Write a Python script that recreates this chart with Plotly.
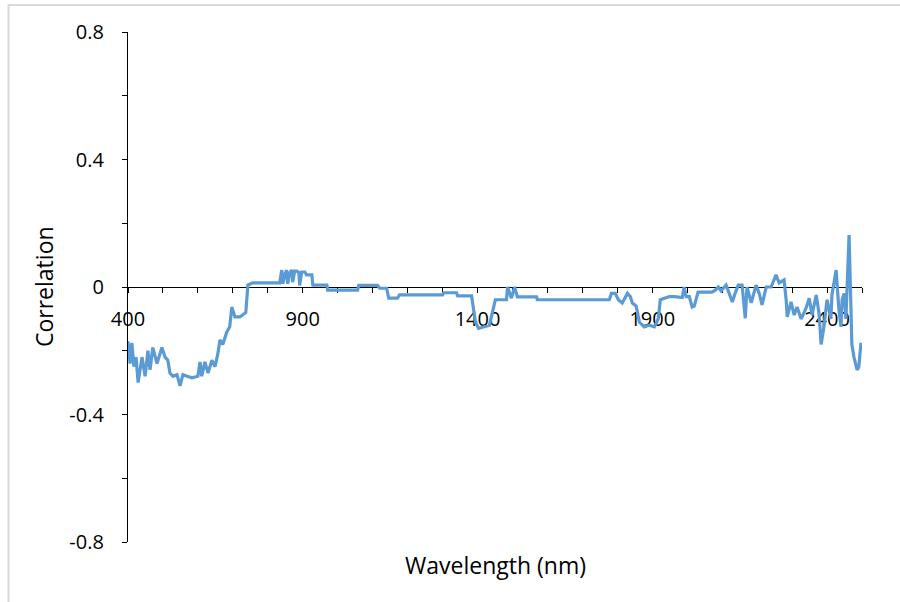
import plotly.graph_objects as go

# Correlation spectrum (wavelength in nm, correlation coefficient)
wavelength = [
    400, 406, 411, 417, 423, 429, 440, 449, 457, 463, 471, 483, 497, 506, 514,
    520, 529, 540, 549, 557, 569, 583, 600, 606, 611, 620, 629, 640, 649, 657,
    663, 671, 683, 691, 697, 706, 720, 734, 737, 743, 757, 834, 840, 843, 849,
    854, 857, 863, 869, 871, 877, 883, 889, 891, 897, 906, 911, 926, 929, 969,
    971, 1057, 1060, 1114, 1120, 1140, 1146, 1171, 1177, 1300, 1303, 1340, 1343,
    1383, 1394, 1403, 1420, 1434, 1451, 1454, 1483, 1486, 1497, 1506, 1514, 1569,
    1571, 1777, 1783, 1794, 1803, 1814, 1829, 1837, 1843, 1854, 1863, 1877, 1891,
    1906, 1917, 1923, 1934, 1949, 1963, 1986, 1991, 1997, 2006, 2014, 2020, 2026,
    2031, 2071, 2080, 2089, 2097, 2106, 2111, 2120, 2129, 2137, 2146, 2157, 2166,
    2171, 2183, 2197, 2206, 2214, 2226, 2240, 2254, 2263, 2277, 2283, 2286, 2297,
    2306, 2314, 2326, 2340, 2349, 2357, 2369, 2377, 2383, 2391, 2400, 2411, 2414,
    2426, 2434, 2440, 2443, 2449, 2454, 2463, 2471, 2477, 2486, 2491, 2497,
]
correlation = [
    -0.17, -0.24, -0.175, -0.25, -0.22, -0.30, -0.22, -0.28, -0.20, -0.26, -0.19,
    -0.24, -0.19, -0.22, -0.23, -0.27, -0.28, -0.275, -0.31, -0.275, -0.28, -0.285,
    -0.28, -0.235, -0.28, -0.235, -0.27, -0.23, -0.25, -0.21, -0.166, -0.18, -0.14,
    -0.125, -0.063, -0.094, -0.094, -0.082, -0.08, 0.006, 0.013, 0.013, 0.053,
    0.01, 0.04, 0.053, 0.01, 0.045, 0.053, 0.015, 0.05, 0.05, 0.045, 0.005, 0.047,
    0.047, 0.038, 0.038, 0.006, 0.006, -0.01, -0.01, 0.005, 0.005, -0.004, -0.004,
    -0.035, -0.035, -0.025, -0.025, -0.018, -0.018, -0.028, -0.028, -0.11, -0.13,
    -0.125, -0.12, -0.04, -0.04, -0.04, 0.0, -0.035, 0.0, -0.031, -0.031, -0.04,
    -0.04, -0.02, -0.02, -0.04, -0.05, -0.02, -0.03, -0.05, -0.06, -0.11, -0.125,
    -0.12, -0.125, -0.1, -0.04, -0.035, -0.03, -0.03, -0.033, 0.0, -0.03, -0.03,
    -0.063, -0.06, -0.04, -0.016, -0.016, -0.01, 0.0, -0.012, 0.0, 0.006, -0.02,
    -0.047, -0.02, 0.006, 0.006, -0.098, 0.0, -0.05, 0.006, -0.02, -0.056, 0.0,
    0.0, 0.038, 0.013, 0.022, -0.04, -0.094, -0.047, -0.088, -0.063, -0.1, -0.066,
    -0.035, -0.088, -0.025, -0.082, -0.18, -0.125, -0.04, -0.1, -0.025, 0.053,
    -0.072, -0.125, -0.04, -0.02, -0.1, 0.163, -0.18, -0.22, -0.26, -0.25, -0.175,
]

# Axis ticks: marks every 100 nm / 0.2, labels every 500 nm / 0.4
x_tickvals = [400, 500, 600, 700, 800, 900, 1000, 1100, 1200, 1300, 1400, 1500,
              1600, 1700, 1800, 1900, 2000, 2100, 2200, 2300, 2400, 2500]
x_labelled = [400, 900, 1400, 1900, 2400]
y_tickvals = [-0.8, -0.6, -0.4, -0.2, 0.0, 0.2, 0.4, 0.6, 0.8]
y_ticktext = ["-0.8", "", "-0.4", "", "0", "", "0.4", "", "0.8"]

FONT = "Open Sans"
LINE_BLUE = "#5B9BD5"
TICK_SIZE = 20
TITLE_SIZE = 23

fig = go.Figure(
    go.Scatter(
        x=wavelength,
        y=correlation,
        mode="lines",
        line=dict(color=LINE_BLUE, width=3.2),
        hoverinfo="x+y",
    )
)

fig.update_layout(
    width=900,
    height=602,
    margin=dict(l=128, r=38, t=32, b=60),
    paper_bgcolor="white",
    plot_bgcolor="white",
    showlegend=False,
    font=dict(family=FONT, color="black", size=TICK_SIZE),
    xaxis=dict(
        range=[400, 2500],
        tickmode="array",
        tickvals=x_tickvals,
        ticktext=[str(v) if v in x_labelled else "" for v in x_tickvals],
        showline=True,
        linecolor="black",
        linewidth=1.3,
        ticks="outside",
        ticklen=5,
        tickwidth=1.3,
        tickcolor="black",
        showgrid=False,
        zeroline=False,
        anchor="free",
        position=0.5,
        ticklabelstandoff=9,
        layer="below traces",
        tickfont=dict(family=FONT, size=TICK_SIZE, color="black"),
    ),
    yaxis=dict(
        range=[-0.8, 0.8],
        tickmode="array",
        tickvals=y_tickvals,
        ticktext=y_ticktext,
        showline=True,
        linecolor="black",
        linewidth=1.3,
        ticks="outside",
        ticklen=5,
        tickwidth=1.3,
        tickcolor="black",
        showgrid=False,
        zeroline=False,
        ticklabelstandoff=14,
        layer="below traces",
        tickfont=dict(family=FONT, size=TICK_SIZE, color="black"),
    ),
)

# Axis titles
fig.add_annotation(
    text="Wavelength (nm)", xref="paper", yref="paper",
    x=0.5, y=(542 - 565) / 510, showarrow=False,
    xanchor="center", yanchor="middle",
    font=dict(family=FONT, size=TITLE_SIZE, color="black"),
)
fig.add_annotation(
    text="Correlation", xref="paper", yref="paper",
    x=(44 - 128) / 734, y=0.5, showarrow=False, textangle=-90,
    xanchor="center", yanchor="middle",
    font=dict(family=FONT, size=TITLE_SIZE, color="black"),
)

# Light grey chart-area frame
fig.add_shape(
    type="rect", xref="paper", yref="paper",
    x0=(8.5 - 128) / 734, x1=(910 - 128) / 734,
    y0=(542 - 610) / 510, y1=(542 - 5) / 510,
    line=dict(color="#D9D9D9", width=2), fillcolor="rgba(0,0,0,0)",
    layer="below",
)

fig.write_html("out.html")
